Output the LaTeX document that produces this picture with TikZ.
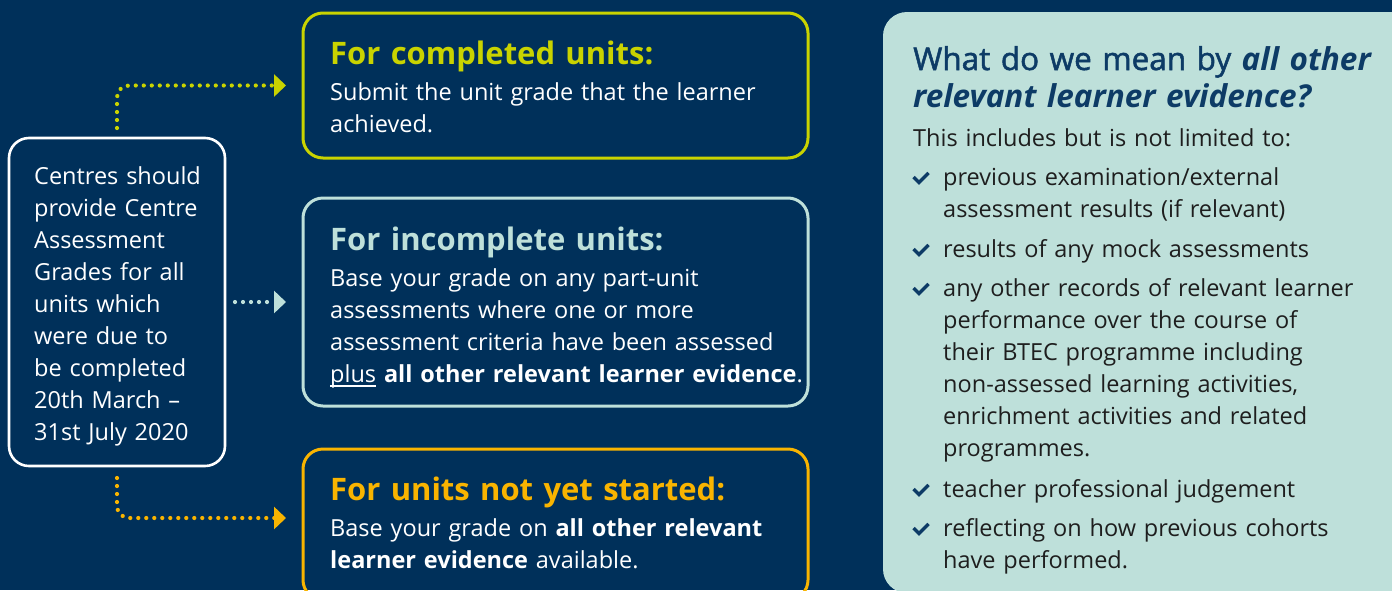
\documentclass[tikz,border=0pt]{standalone}
\usepackage{fontspec}
\setmainfont{Open Sans}
\newfontfamily\semifont{Open Sans}[FakeBold=1.6]
\usetikzlibrary{arrows.meta}
\definecolor{bgnavy}{HTML}{00305A}
\definecolor{ygreen}{HTML}{C9D300}
\definecolor{lteal}{HTML}{BEE0DA}
\definecolor{amber}{HTML}{F9B400}
\definecolor{headnavy}{HTML}{0D3B66}
\definecolor{darktext}{HTML}{1E1E1E}
\newcommand\ulword[1]{\leavevmode\setbox0\hbox{#1}\rlap{\rule[-4.5pt]{\wd0}{1.2pt}}\box0\relax}
\begin{document}
\begin{tikzpicture}[x=1pt,y=-1pt,
  cbox/.style={shape=rectangle, rounded corners=20pt, line width=3pt, inner sep=0pt, outer sep=0pt},
  txt/.style={inner sep=0pt, anchor=base west, align=left, text width=600pt},
  bodyf/.style={txt, font=\fontsize{23.5}{32}\selectfont},
  titlef/.style={txt, font=\bfseries\fontsize{31}{36}\selectfont},
  dotc/.style={line width=4.2pt, line cap=round, dash pattern=on 0pt off 8pt, rounded corners=12pt,
    -{Triangle[length=12pt,width=22pt]}},
  chk/.style={line width=3.4pt, headnavy, line cap=butt, line join=miter}
]
\useasboundingbox (0,0) rectangle (1392,590);
\fill[bgnavy] (0,0) rectangle (1392,590);
\clip (0,0) rectangle (1392,590);

% left box
\node[cbox, draw=white, line width=2.6pt, minimum width=216pt, minimum height=328pt] (src) at (117,302) {};
\node[bodyf, text=white] (srct) at (34,184) {Centres should\\provide Centre\\Assessment\\Grades for all\\units which\\were due to\\be completed\\20th March –\\31st July 2020};

% box 1
\node[cbox, draw=ygreen, minimum width=505pt, minimum height=145pt] (b1) at (555.5,85.5) {};
\node[titlef, text=ygreen] (b1h) at (330,64) {For completed units:};
\node[bodyf, text=white] (b1t) at (330,100) {Submit the unit grade that the learner\\achieved.};

% box 2
\node[cbox, draw=lteal, minimum width=505pt, minimum height=208pt] (b2) at (555.5,302) {};
\node[titlef, text=lteal] (b2h) at (330,250) {For incomplete units:};
\node[bodyf, text=white] (b2t) at (330,286) {Base your grade on any part-unit\\assessments where one or more\\assessment criteria have been assessed\\\ulword{plus} \textbf{all other relevant learner evidence}.};

% box 3
\node[cbox, draw=amber, minimum width=505pt, minimum height=151pt] (b3) at (555.5,524.5) {};
\node[titlef, text=amber] (b3h) at (330,500) {For units not yet started:};
\node[bodyf, text=white] (b3t) at (330,536) {Base your grade on \textbf{all other relevant}\\\textbf{learner evidence} available.};

% connectors
\draw[dotc, ygreen] ([yshift=10pt]src.north) |- ([xshift=-17pt]b1.west);
\draw[dotc, lteal] ([xshift=10pt]src.east) -- ([xshift=-17pt]b2.west);
\draw[dotc, amber] ([yshift=-12pt]src.south) |- ([xshift=-17pt,yshift=6.5pt]b3.west);

% right panel
\node[cbox, fill=lteal, rounded corners=24pt, minimum width=540pt, minimum height=581pt] (rp) at (1153,302.5) {};
\node[txt, text=headnavy, font=\fontsize{31.5}{37}\selectfont] (rph) at (913,70) {{\semifont What do we mean by} \textbf{\textit{all other}}\\\textbf{\textit{relevant learner evidence?}}};
\node[bodyf, text=darktext] (rpi) at (913,146) {This includes but is not limited to:};
\node[bodyf, text=darktext] (i1) at (943,185) {previous examination/external\\assessment results (if relevant)};
\node[bodyf, text=darktext] (i2) at (943,257) {results of any mock assessments};
\node[bodyf, text=darktext] (i3) at (943,296) {any other records of relevant learner\\performance over the course of\\their BTEC programme including\\non-assessed learning activities,\\enrichment activities and related\\programmes.};
\node[bodyf, text=darktext] (i4) at (943,497) {teacher professional judgement};
\node[bodyf, text=darktext] (i5) at (943,536) {reflecting on how previous cohorts\\have performed.};
\foreach \b in {185,257,296,497,536}
  \draw[chk] (913.5,\b-8) -- (919,\b-2.5) -- (928.5,\b-12);
\end{tikzpicture}
\end{document}
